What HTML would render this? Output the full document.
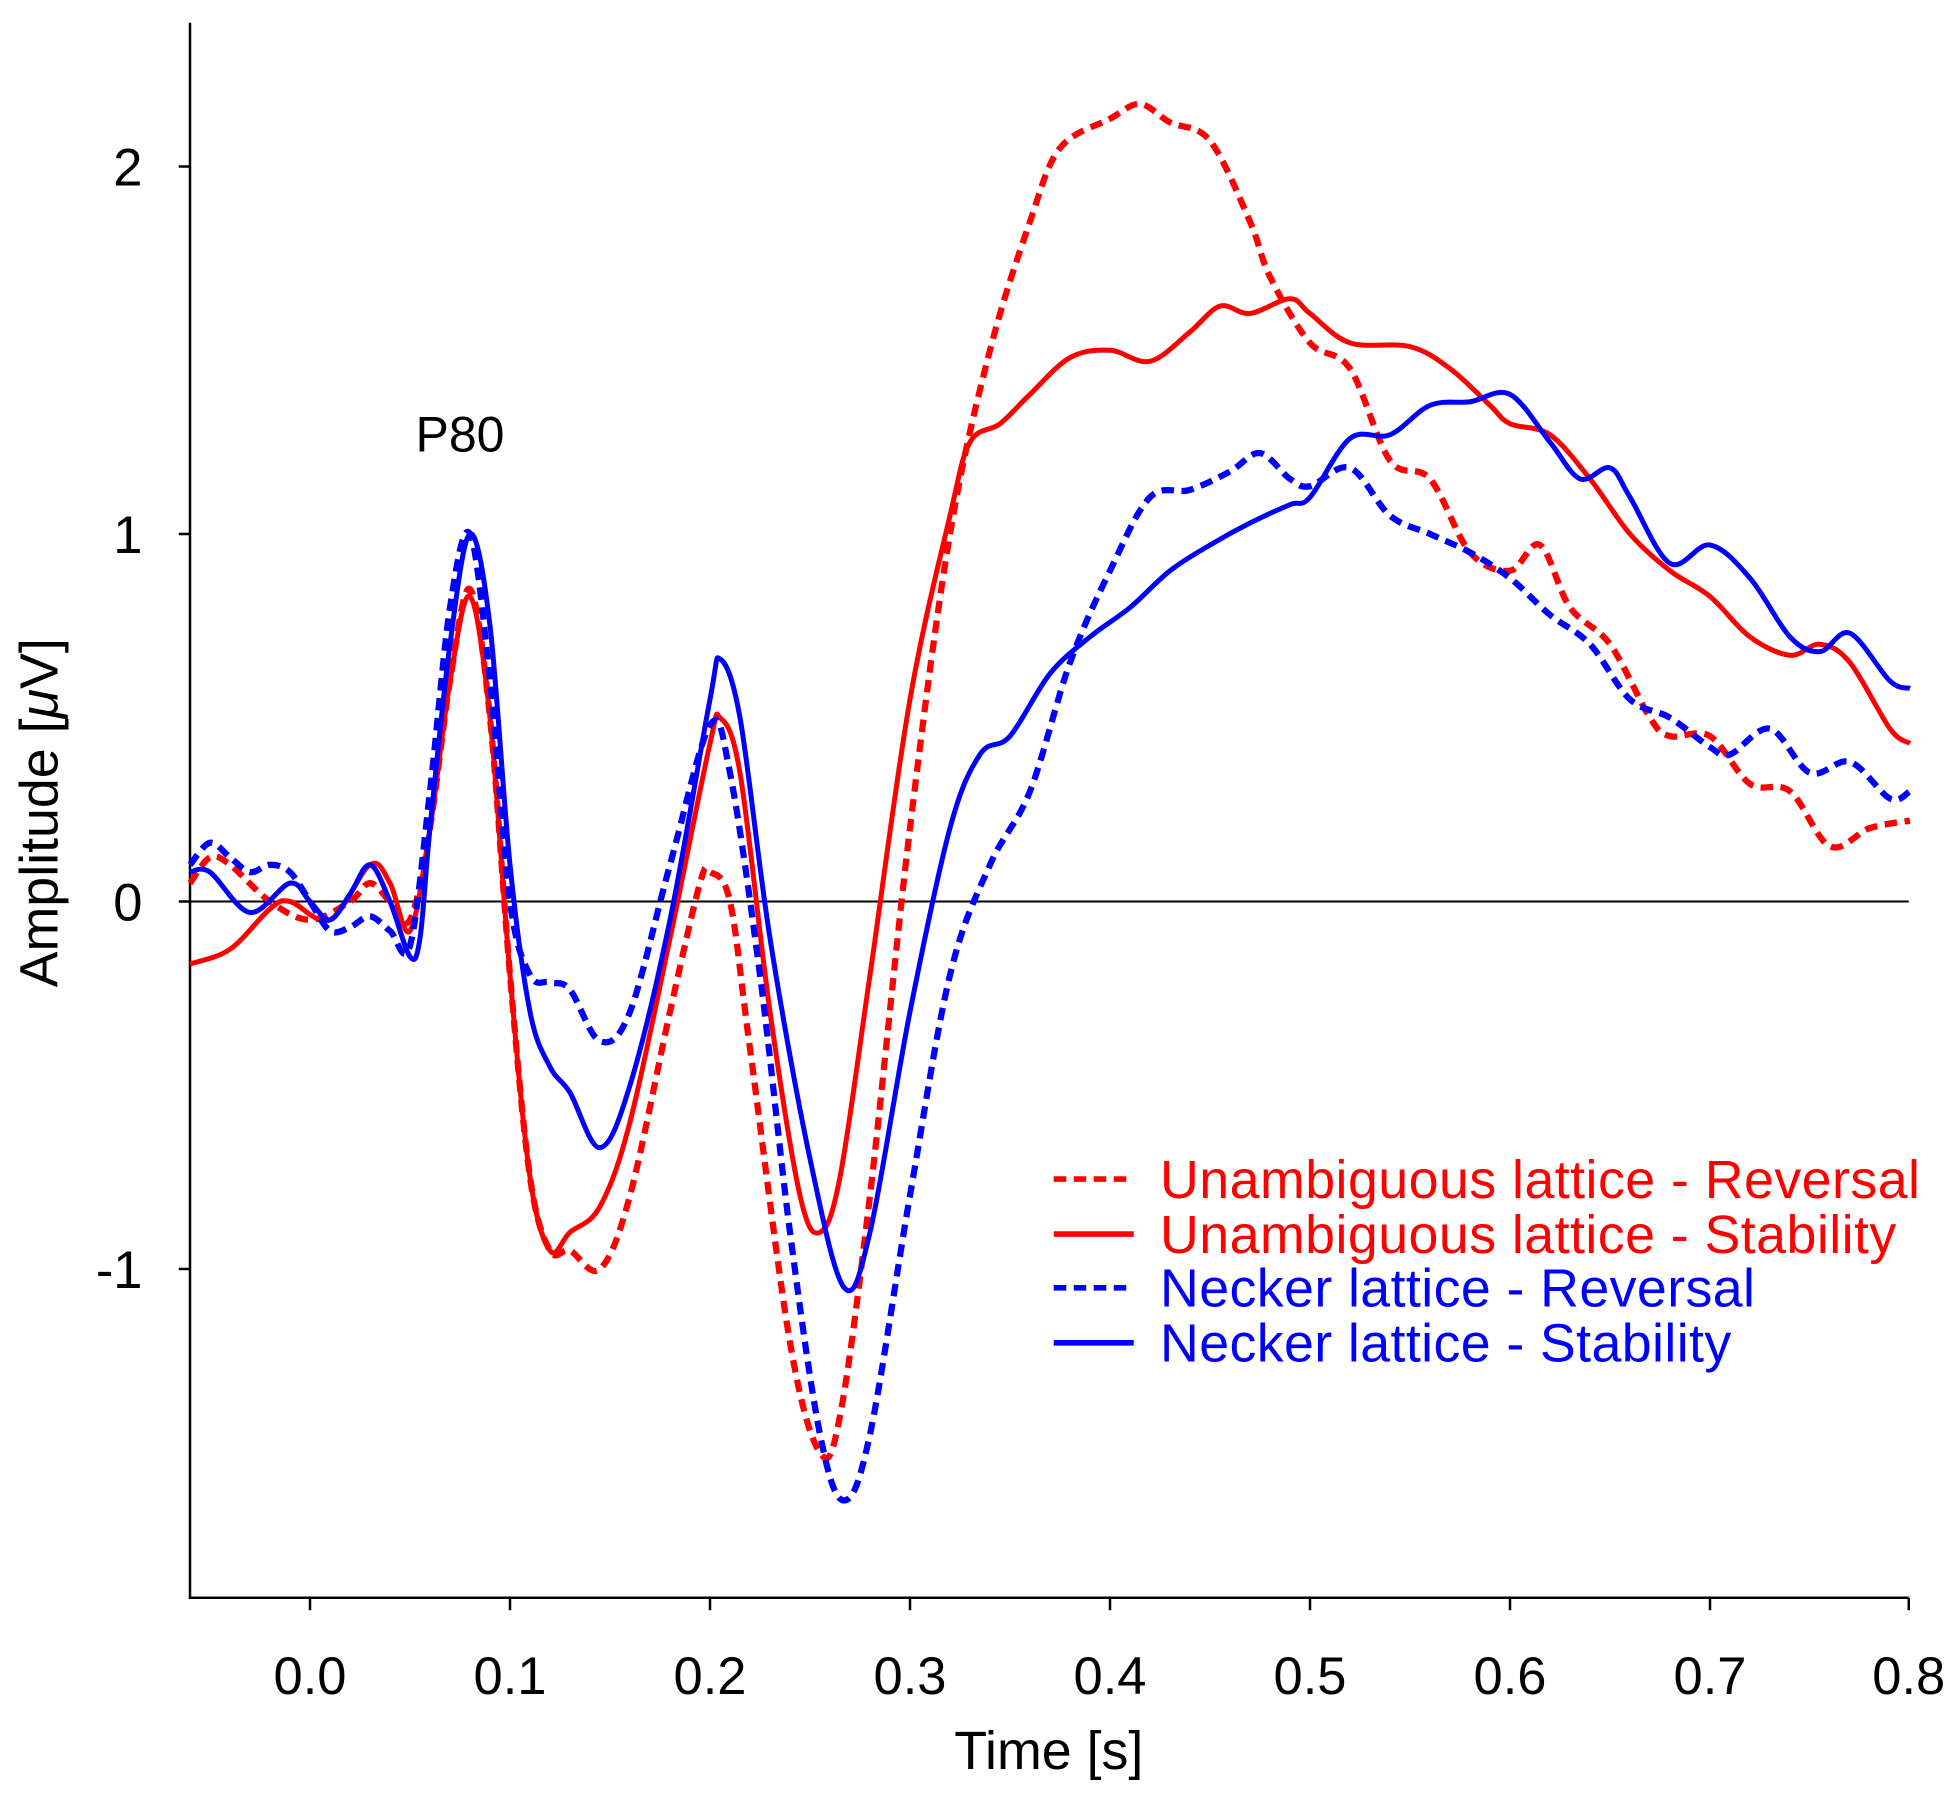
<!DOCTYPE html>
<html><head><meta charset="utf-8"><style>
html,body{margin:0;padding:0;background:#fff}
svg{display:block}
text{font-family:"Liberation Sans",Arial,sans-serif}
</style></head><body>
<svg id="s" width="1960" height="1793" viewBox="0 0 1568 1434" xmlns="http://www.w3.org/2000/svg">
<rect width="1568" height="1434" fill="#fff"/>
<g stroke="#000" stroke-width="2" fill="none">
<line x1="152" y1="18" x2="152" y2="1279"/>
<line x1="151" y1="1278" x2="1527" y2="1278"/>
<line x1="152" y1="721" x2="1527" y2="721" stroke-width="1.6"/>
<line x1="143" y1="133" x2="152" y2="133"/>
<line x1="143" y1="427" x2="152" y2="427"/>
<line x1="143" y1="721" x2="152" y2="721"/>
<line x1="143" y1="1015" x2="152" y2="1015"/>
<line x1="248" y1="1278" x2="248" y2="1288"/>
<line x1="408" y1="1278" x2="408" y2="1288"/>
<line x1="568" y1="1278" x2="568" y2="1288"/>
<line x1="728" y1="1278" x2="728" y2="1288"/>
<line x1="888" y1="1278" x2="888" y2="1288"/>
<line x1="1048" y1="1278" x2="1048" y2="1288"/>
<line x1="1208" y1="1278" x2="1208" y2="1288"/>
<line x1="1368" y1="1278" x2="1368" y2="1288"/>
<line x1="1527" y1="1278" x2="1527" y2="1288"/>
</g>
<g font-size="42" fill="#000" text-anchor="end">
<text x="114" y="148">2</text><text x="114" y="442">1</text><text x="114" y="736">0</text><text x="114" y="1030">-1</text>
</g>
<g font-size="42" fill="#000" text-anchor="middle">
<text x="248" y="1355">0.0</text><text x="408" y="1355">0.1</text><text x="568" y="1355">0.2</text><text x="728" y="1355">0.3</text><text x="888" y="1355">0.4</text><text x="1048" y="1355">0.5</text><text x="1208" y="1355">0.6</text><text x="1368" y="1355">0.7</text><text x="1527" y="1355">0.8</text>
<text x="839" y="1415" font-size="43">Time [s]</text>
<text x="368" y="361" font-size="40">P80</text>
<text transform="translate(46,650) rotate(-90)" font-size="43">Amplitude [<tspan font-style="italic">μ</tspan>V]</text>
</g>
<g id="curves" fill="none" stroke-width="4" stroke-linejoin="round"></g>
<g stroke-width="4.5">
<line x1="843" y1="943" x2="905" y2="943" stroke="#f00" stroke-dasharray="10,6"/>
<line x1="843" y1="987" x2="907" y2="987" stroke="#f00"/>
<line x1="843" y1="1030" x2="905" y2="1030" stroke="#00f" stroke-dasharray="10,6"/>
<line x1="843" y1="1074" x2="907" y2="1074" stroke="#00f"/>
</g>
<g font-size="43">
<text x="928" y="958" fill="#f00" textLength="608">Unambiguous lattice - Reversal</text>
<text x="928" y="1002" fill="#f00" textLength="589">Unambiguous lattice - Stability</text>
<text x="928" y="1045" fill="#00f" textLength="476">Necker lattice - Reversal</text>
<text x="928" y="1089" fill="#00f" textLength="457">Necker lattice - Stability</text>
</g>
</svg>
<script>
function P(a){var p=[];for(var i=0;i<a.length;i+=2)p.push([248+a[i]*1600,721-294*a[i+1]]);return p;}
function path(p){var d="M"+p[0][0].toFixed(1)+","+p[0][1].toFixed(1);
for(var i=0;i<p.length-1;i++){var p0=p[i-1]||p[i],p1=p[i],p2=p[i+1],p3=p[i+2]||p2;
var c1=[p1[0]+(p2[0]-p0[0])/6,p1[1]+(p2[1]-p0[1])/6],c2=[p2[0]-(p3[0]-p1[0])/6,p2[1]-(p3[1]-p1[1])/6];
d+=" C"+c1[0].toFixed(1)+","+c1[1].toFixed(1)+" "+c2[0].toFixed(1)+","+c2[1].toFixed(1)+" "+p2[0].toFixed(1)+","+p2[1].toFixed(1);}
return d;}
var S=[
["#f00",1,[-0.06,0.05,-0.05,0.12,-0.04,0.1,-0.02,0.0,0.0,-0.05,0.02,0.0,0.03,0.05,0.04,0.0,0.05,-0.05,0.06,0.2,0.07,0.6,0.08,0.85,0.09,0.5,0.1,-0.2,0.11,-0.75,0.12,-0.95,0.13,-0.95,0.145,-1.0,0.16,-0.8,0.18,-0.3,0.195,0.05,0.2,0.08,0.21,0.0,0.22,-0.4,0.24,-1.2,0.255,-1.5,0.265,-1.4,0.28,-0.8,0.3,0.2,0.32,1.0,0.34,1.5,0.36,1.85,0.375,2.05,0.4,2.13,0.415,2.17,0.43,2.12,0.45,2.07,0.47,1.85,0.48,1.7,0.5,1.52,0.52,1.45,0.54,1.2,0.56,1.15,0.58,0.95,0.6,0.9,0.615,0.97,0.63,0.8,0.65,0.7,0.67,0.5,0.68,0.45,0.7,0.45,0.72,0.32,0.74,0.3,0.76,0.15,0.78,0.2,0.8,0.22]],
["#f00",0,[-0.06,-0.17,-0.04,-0.13,-0.02,-0.02,-0.01,0.0,0.01,-0.05,0.03,0.1,0.04,0.05,0.05,-0.08,0.06,0.2,0.07,0.6,0.08,0.83,0.09,0.5,0.1,-0.2,0.11,-0.75,0.12,-0.95,0.13,-0.9,0.145,-0.83,0.16,-0.6,0.18,-0.1,0.2,0.43,0.205,0.5,0.215,0.35,0.23,-0.3,0.245,-0.8,0.255,-0.9,0.265,-0.75,0.28,-0.2,0.3,0.55,0.32,1.05,0.33,1.25,0.345,1.3,0.36,1.38,0.38,1.48,0.4,1.5,0.42,1.47,0.44,1.55,0.455,1.62,0.47,1.6,0.49,1.64,0.5,1.6,0.52,1.52,0.55,1.51,0.57,1.45,0.59,1.35,0.6,1.3,0.62,1.27,0.64,1.15,0.66,1.0,0.68,0.9,0.7,0.83,0.72,0.72,0.74,0.67,0.755,0.7,0.77,0.65,0.79,0.47,0.8,0.43]],
["#00f",1,[-0.06,0.1,-0.05,0.16,-0.04,0.12,-0.03,0.08,-0.02,0.1,-0.01,0.08,0.0,0.0,0.01,-0.08,0.02,-0.07,0.03,-0.04,0.04,-0.08,0.05,-0.12,0.06,0.3,0.07,0.8,0.08,1.0,0.09,0.6,0.1,0.0,0.11,-0.2,0.12,-0.22,0.13,-0.24,0.145,-0.38,0.16,-0.3,0.18,0.1,0.2,0.48,0.21,0.35,0.225,-0.2,0.24,-0.9,0.255,-1.45,0.267,-1.63,0.28,-1.45,0.3,-0.8,0.32,-0.2,0.34,0.1,0.36,0.3,0.38,0.65,0.4,0.9,0.42,1.1,0.44,1.12,0.46,1.17,0.475,1.22,0.49,1.15,0.5,1.13,0.52,1.18,0.54,1.05,0.56,1.0,0.58,0.95,0.6,0.88,0.62,0.78,0.64,0.7,0.66,0.55,0.68,0.5,0.7,0.42,0.71,0.4,0.73,0.47,0.75,0.35,0.77,0.38,0.79,0.28,0.8,0.3]],
["#00f",0,[-0.06,0.08,-0.05,0.08,-0.03,-0.03,-0.01,0.05,0.0,0.0,0.01,-0.05,0.02,0.02,0.03,0.1,0.04,0.0,0.05,-0.15,0.055,-0.1,0.06,0.2,0.07,0.7,0.08,1.0,0.09,0.75,0.1,0.1,0.11,-0.3,0.12,-0.45,0.13,-0.52,0.145,-0.67,0.16,-0.5,0.18,-0.05,0.2,0.55,0.205,0.66,0.215,0.5,0.23,-0.1,0.25,-0.7,0.267,-1.05,0.28,-0.9,0.3,-0.3,0.32,0.2,0.335,0.4,0.35,0.45,0.37,0.62,0.39,0.72,0.41,0.8,0.43,0.9,0.45,0.97,0.47,1.03,0.49,1.08,0.5,1.1,0.52,1.26,0.54,1.27,0.56,1.35,0.58,1.36,0.6,1.38,0.62,1.25,0.635,1.15,0.65,1.18,0.66,1.1,0.68,0.92,0.7,0.97,0.72,0.88,0.74,0.72,0.755,0.68,0.77,0.73,0.79,0.6,0.8,0.58]]];
var g=document.getElementById("curves");
S.forEach(function(s){var e=document.createElementNS("http://www.w3.org/2000/svg","path");
e.setAttribute("d",path(P(s[2])));e.setAttribute("stroke",s[0]);
if(s[1]){e.setAttribute("stroke-dasharray","10,6");e.setAttribute("stroke-width","5");}
g.appendChild(e);});
</script>
</body></html>
